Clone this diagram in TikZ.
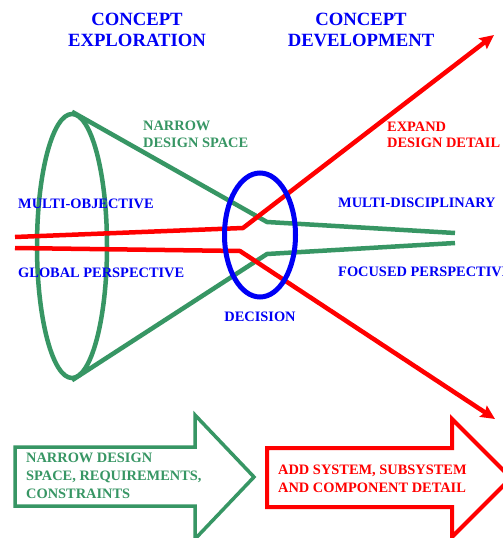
\documentclass[tikz,border=0pt]{standalone}
\usepackage{fontspec}
\setmainfont{Liberation Serif}
\usepackage{xcolor}
\usetikzlibrary{arrows.meta,positioning,shapes.geometric}
\definecolor{cgreen}{RGB}{55,150,100}
\definecolor{cblue}{RGB}{0,0,245}
\definecolor{cred}{RGB}{255,0,0}
\tikzset{%
	heading/.style   = {font=\fontsize{18.7}{21}\selectfont\bfseries, text=cblue, align=center, inner sep=0pt},
	bluelabel/.style = {font=\fontsize{14.4}{17}\selectfont\bfseries, text=cblue, inner sep=0pt},
	greenlabel/.style= {font=\fontsize{14.4}{17}\selectfont\bfseries, text=cgreen, align=left, inner sep=0pt},
	redlabel/.style  = {font=\fontsize{14.4}{17}\selectfont\bfseries, text=cred, align=left, inner sep=0pt},
	greenline/.style = {draw=cgreen, line width=4.5pt, line join=round},
	redline/.style   = {draw=cred, line width=4.5pt, line join=round, -{Stealth[length=14pt,width=13pt,inset=2pt]}},
	ring/.style      = {draw, ellipse, inner sep=0pt},
	bigarrow/.style  = {line width=3.5pt, line join=miter},
}

\begin{document}
\begin{tikzpicture}[x=1pt,y=-1pt]
	\useasboundingbox (0,0) rectangle (503,538);
	\fill[white] (0,0) rectangle (503,538);
	
	% phase headings
	\node[heading,anchor=north] (explore) at (137,13) {CONCEPT\\EXPLORATION};
	\node[heading,anchor=north] (develop) at (361,13) {CONCEPT\\DEVELOPMENT};
	
	% design space cone
	\node[ring,draw=cgreen,line width=4.5pt,minimum width=70,minimum height=264] (cone) at (72,246) {};
	\coordinate (upkink) at (267,222);
	\coordinate (upend) at (455,233);
	\coordinate (lowkink) at (267,254);
	\coordinate (lowend) at (455,243);
	\draw[greenline] (cone.north) -- (upkink) -- (upend);
	\draw[greenline] (cone.south) -- (lowkink) -- (lowend);
	
	% design detail lines
	\coordinate (redin1) at (15,237);
	\coordinate (redbend1) at (243,228);
	\coordinate (redtip1) at (494,35);
	\coordinate (redin2) at (15,248);
	\coordinate (redbend2) at (240,251);
	\coordinate (redtip2) at (495,419);
	\draw[redline] (redin1) -- (redbend1) -- (redtip1);
	\draw[redline] (redin2) -- (redbend2) -- (redtip2);
	
	% decision point
	\node[ring,draw=cblue,line width=5pt,minimum width=71,minimum height=124] (decide) at (260,235) {};
	\node[bluelabel,below=12pt of decide] (decision) {DECISION};
	
	\node[greenlabel,anchor=north west] (narrow) at (143,121) {NARROW\\DESIGN SPACE};
	\node[redlabel,anchor=north west,font=\fontsize{14.4}{15.5}\selectfont\bfseries] (expand) at (387,122) {EXPAND\\DESIGN DETAIL};
	\node[bluelabel,anchor=base west] (multiobj) at (18,208) {MULTI-OBJECTIVE};
	\node[bluelabel,anchor=base west] (global) at (18,277) {GLOBAL PERSPECTIVE};
	\node[bluelabel,anchor=base west] (multidisc) at (338,207) {MULTI-DISCIPLINARY};
	\node[bluelabel,anchor=base west] (focused) at (338,276) {FOCUSED PERSPECTIVE};
	
	% block arrows
	\draw[bigarrow,draw=cgreen] (15,447) -- (195,447) -- (195,415) -- (254,477)
		-- (195,539) -- (195,506) -- (15,506) -- cycle;
	\node[greenlabel,anchor=north west,font=\fontsize{14.4}{18}\selectfont\bfseries] (narrowbox) at (26,453)
		{NARROW DESIGN\\SPACE, REQUIREMENTS,\\CONSTRAINTS};
	\draw[bigarrow,draw=cred,line width=4pt] (267,448) -- (452,448) -- (452,419) -- (511,478)
		-- (452,537) -- (452,507) -- (267,507) -- cycle;
	\node[redlabel,anchor=north west,font=\fontsize{14.4}{18}\selectfont\bfseries] (addbox) at (278,465)
		{ADD SYSTEM, SUBSYSTEM\\AND COMPONENT DETAIL};
\end{tikzpicture}
\end{document}
